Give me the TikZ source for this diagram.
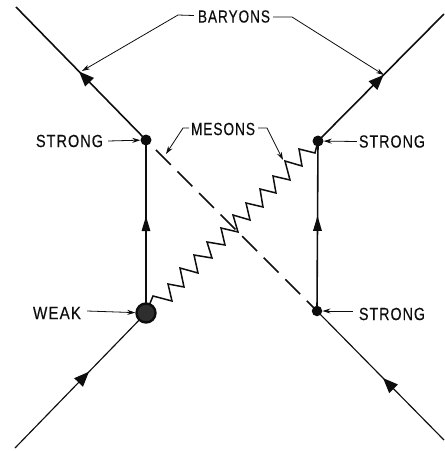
\documentclass[tikz,border=0pt]{standalone}
\usepackage{fontspec}
\usepackage{graphicx}
\setmainfont[LetterSpace=7,FakeBold=0.3]{Liberation Sans}
\usetikzlibrary{arrows.meta,decorations.markings}
\newcommand{\lab}[2]{\resizebox{#1pt}{12.3pt}{#2}}
\tikzset{
  vertex/.style={circle,fill=inkc,inner sep=0pt,minimum size=11pt},
  weakvertex/.style={circle,draw=inkc,line width=2.4pt,fill=black!82,inner sep=0pt,minimum size=19pt},
  label text/.style={inner sep=0pt,text=inkc},
  leader/.style={draw=inkc,line width=.8pt},
  pointer/.style={leader,-{Stealth[length=8pt,width=5pt]}},
  heavy/.style={draw=inkc,line width=1.6pt},
  light/.style={draw=inkc,line width=1.15pt},
  fermion/.style={postaction={decorate},decoration={markings,mark=at position #1 with {\arrow[inkc]{Triangle[length=15pt,width=12pt]}}}},
  upline/.style={postaction={decorate},decoration={markings,mark=at position #1 with {\arrow[inkc]{Triangle[length=15pt,width=8.5pt]}}}},
  meson/.style={draw=inkc,line width=1.5pt,line join=miter},
  pion/.style={draw=inkc,line width=1.5pt,dash pattern=on 21pt off 9.5pt,dash phase=16.5pt},
}
\definecolor{inkc}{gray}{0.05}
\begin{document}
\begin{tikzpicture}[x=1pt,y=-1pt]
\useasboundingbox (0,0) rectangle (445,451);
\coordinate (tlEnd) at (16,7);
\coordinate (trEnd) at (444,14);
\coordinate (blEnd) at (15,448);
\coordinate (brEnd) at (444,440);
\coordinate (Ap) at (146,140);
\coordinate (Bp) at (318,141);
\coordinate (Cp) at (146,313);
\coordinate (Dp) at (317,311);
% particle lines
\draw[heavy,fermion=.515] (Ap) -- (tlEnd);
\draw[heavy,fermion=.52] (Bp) -- (trEnd);
\draw[light,fermion=.565] (blEnd) -- (Cp);
\draw[light,fermion=.48] (brEnd) -- (Dp);
\draw[heavy,upline=.56] (Cp) -- (Ap);
\draw[heavy,upline=.56] (Dp) -- (Bp);
\draw[pion] (Ap) -- (Dp);
\draw[meson] (Cp) -- (153,296) -- (172,301) -- (168,284) -- (184,287) -- (180,268) -- (198,273) -- (194,255) -- (212,258) -- (207,242) -- (225,245) -- (221,228) -- (238,232) -- (233,215) -- (250,220) -- (246,203) -- (263,207) -- (260,189) -- (276,193) -- (273,176) -- (290,180) -- (285,161) -- (302,166) -- (299,149) -- (315,153) -- (Bp);
% vertices
\node[vertex] (A) at (Ap) {};
\node[vertex] (B) at (Bp) {};
\node[vertex,minimum size=10.5pt] (D) at (Dp) {};
\node[weakvertex] (C) at (Cp) {};
% labels
\node[label text] (bary) at (234,16.5) {\lab{72}{BARYONS}};
\node[label text] (mes) at (223,129) {\lab{64}{MESONS}};
\node[label text] (sl) at (69.5,141) {\lab{67}{STRONG}};
\node[label text] (sr) at (392,141.5) {\lab{66}{STRONG}};
\node[label text] (sd) at (392,314) {\lab{66}{STRONG}};
\node[label text] (wk) at (57,313) {\lab{48}{WEAK}};
% leaders
\coordinate (bl1) at (178,15);
\coordinate (bl2) at (82,71);
\coordinate (br1) at (292,17);
\coordinate (br2) at (384,75);
\coordinate (ml1) at (183,128);
\coordinate (ml2) at (166,154);
\coordinate (mr1) at (267,128);
\coordinate (mr2) at (283,160);
\draw[pointer] (bary.west) ++(-4,-1) -- (bl1) -- (bl2);
\draw[pointer] (bary.east) ++(3,0.5) -- (br1) -- (br2);
\draw[pointer] (mes.west) ++(-2,-1) -- (ml1) -- (ml2);
\draw[pointer] (mes.east) ++(3,-1) -- (mr1) -- (mr2);
\draw[pointer] (sl.east) ++(5,0) -- (A);
\draw[pointer] (sr.west) ++(-2,0) -- (B);
\draw[pointer] (sd.west) ++(-6,-3) -- (D);
\draw[pointer] (wk.east) ++(6,-2) -- (C);
\end{tikzpicture}
\end{document}
